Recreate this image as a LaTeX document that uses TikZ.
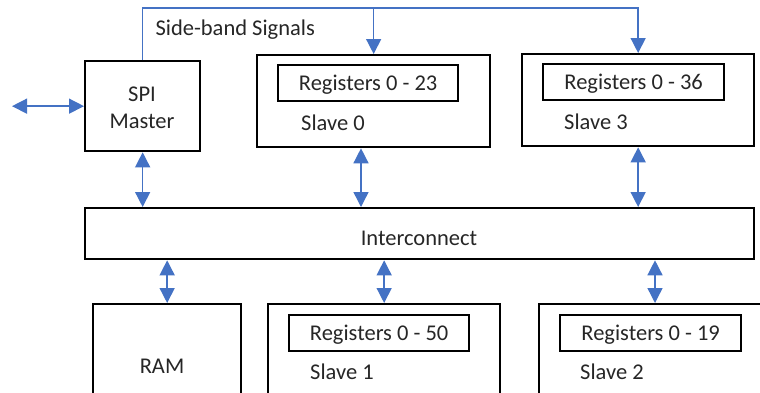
\documentclass[tikz,border=0pt]{standalone}
\usepackage{fontspec}
\setmainfont{Carlito}
\usetikzlibrary{arrows.meta,positioning}
\definecolor{linkblue}{HTML}{4472C4}
\definecolor{textgray}{HTML}{262626}

\begin{document}
\begin{tikzpicture}[x=1pt,y=-1pt,
    box/.style={draw,line width=2.3pt,anchor=north west,inner sep=0pt},
    txt/.style={font=\fontsize{22.5}{27}\selectfont,text=textgray},
    regbox/.style={box,txt,text depth=0pt,minimum height=36},
    link/.style={draw=linkblue,line width=1.4pt,
        {Triangle[width=15pt,length=15pt]}-{Triangle[width=15pt,length=15pt]}},
    feed/.style={draw=linkblue,line width=1.4pt,-{Triangle[width=15pt,length=15pt]}}]

\useasboundingbox (0,0) rectangle (760,392);
\clip (0,0) rectangle (760,392);

% SPI master
\node[box,minimum width=115,minimum height=90] (spi) at (84,60) {};
\node[txt,align=center] (nspi) at (142,108) {SPI\\Master};

% Slave 0
\node[box,minimum width=233,minimum height=92] (s0) at (256,54) {};
\node[regbox,minimum width=180] (r0) at (277,64) {Registers 0 - 23};
\node[txt] (n0) at (333,123) {Slave 0};

% Slave 3
\node[box,minimum width=232,minimum height=92] (s3) at (521,53) {};
\node[regbox,minimum width=181] (r3) at (542,63) {Registers 0 - 36};
\node[txt] (n3) at (596,122) {Slave 3};

% Interconnect
\node[box,minimum width=669,minimum height=51] (ic) at (84,207) {};
\node[txt] (nic) at (419,238) {Interconnect};

% RAM
\node[box,minimum width=148,minimum height=120] (ram) at (92,303) {};
\node[txt] (nram) at (162,366) {RAM};

% Slave 1
\node[box,minimum width=232,minimum height=120] (s1) at (267,303) {};
\node[regbox,minimum width=180] (r1) at (288,314) {Registers 0 - 50};
\node[txt] (n1) at (342,372) {Slave 1};

% Slave 2
\node[box,minimum width=240,minimum height=120] (s2) at (538,303) {};
\node[regbox,minimum width=181] (r2) at (559,314) {Registers 0 - 19};
\node[txt] (n2) at (612,372) {Slave 2};

% Side-band signals
\coordinate (sbtop) at (0,8);
\node[txt,anchor=west] (sb) at (152,30) {Side-band Signals};
\draw[feed] (spi.north) -- (spi.north |- sbtop) -| (s3.north);
\draw[feed] (s0.north |- sbtop) -- (s0.north);

% Links
\coordinate (ext) at (12,0);
\coordinate (s0x) at (361,0);
\coordinate (s2x) at (655,0);
\draw[link] (ext |- spi.west) -- (spi.west);
\draw[link] (spi.south) -- (spi.south |- ic.north);
\draw[link] (s0x |- s0.south) -- (s0x |- ic.north);
\draw[link] (s3.south) -- (s3.south |- ic.north);
\draw[link] (ram.north |- ic.south) -- (ram.north);
\draw[link] (s1.north |- ic.south) -- (s1.north);
\draw[link] (s2x |- ic.south) -- (s2x |- s2.north);

\end{tikzpicture}
\end{document}
